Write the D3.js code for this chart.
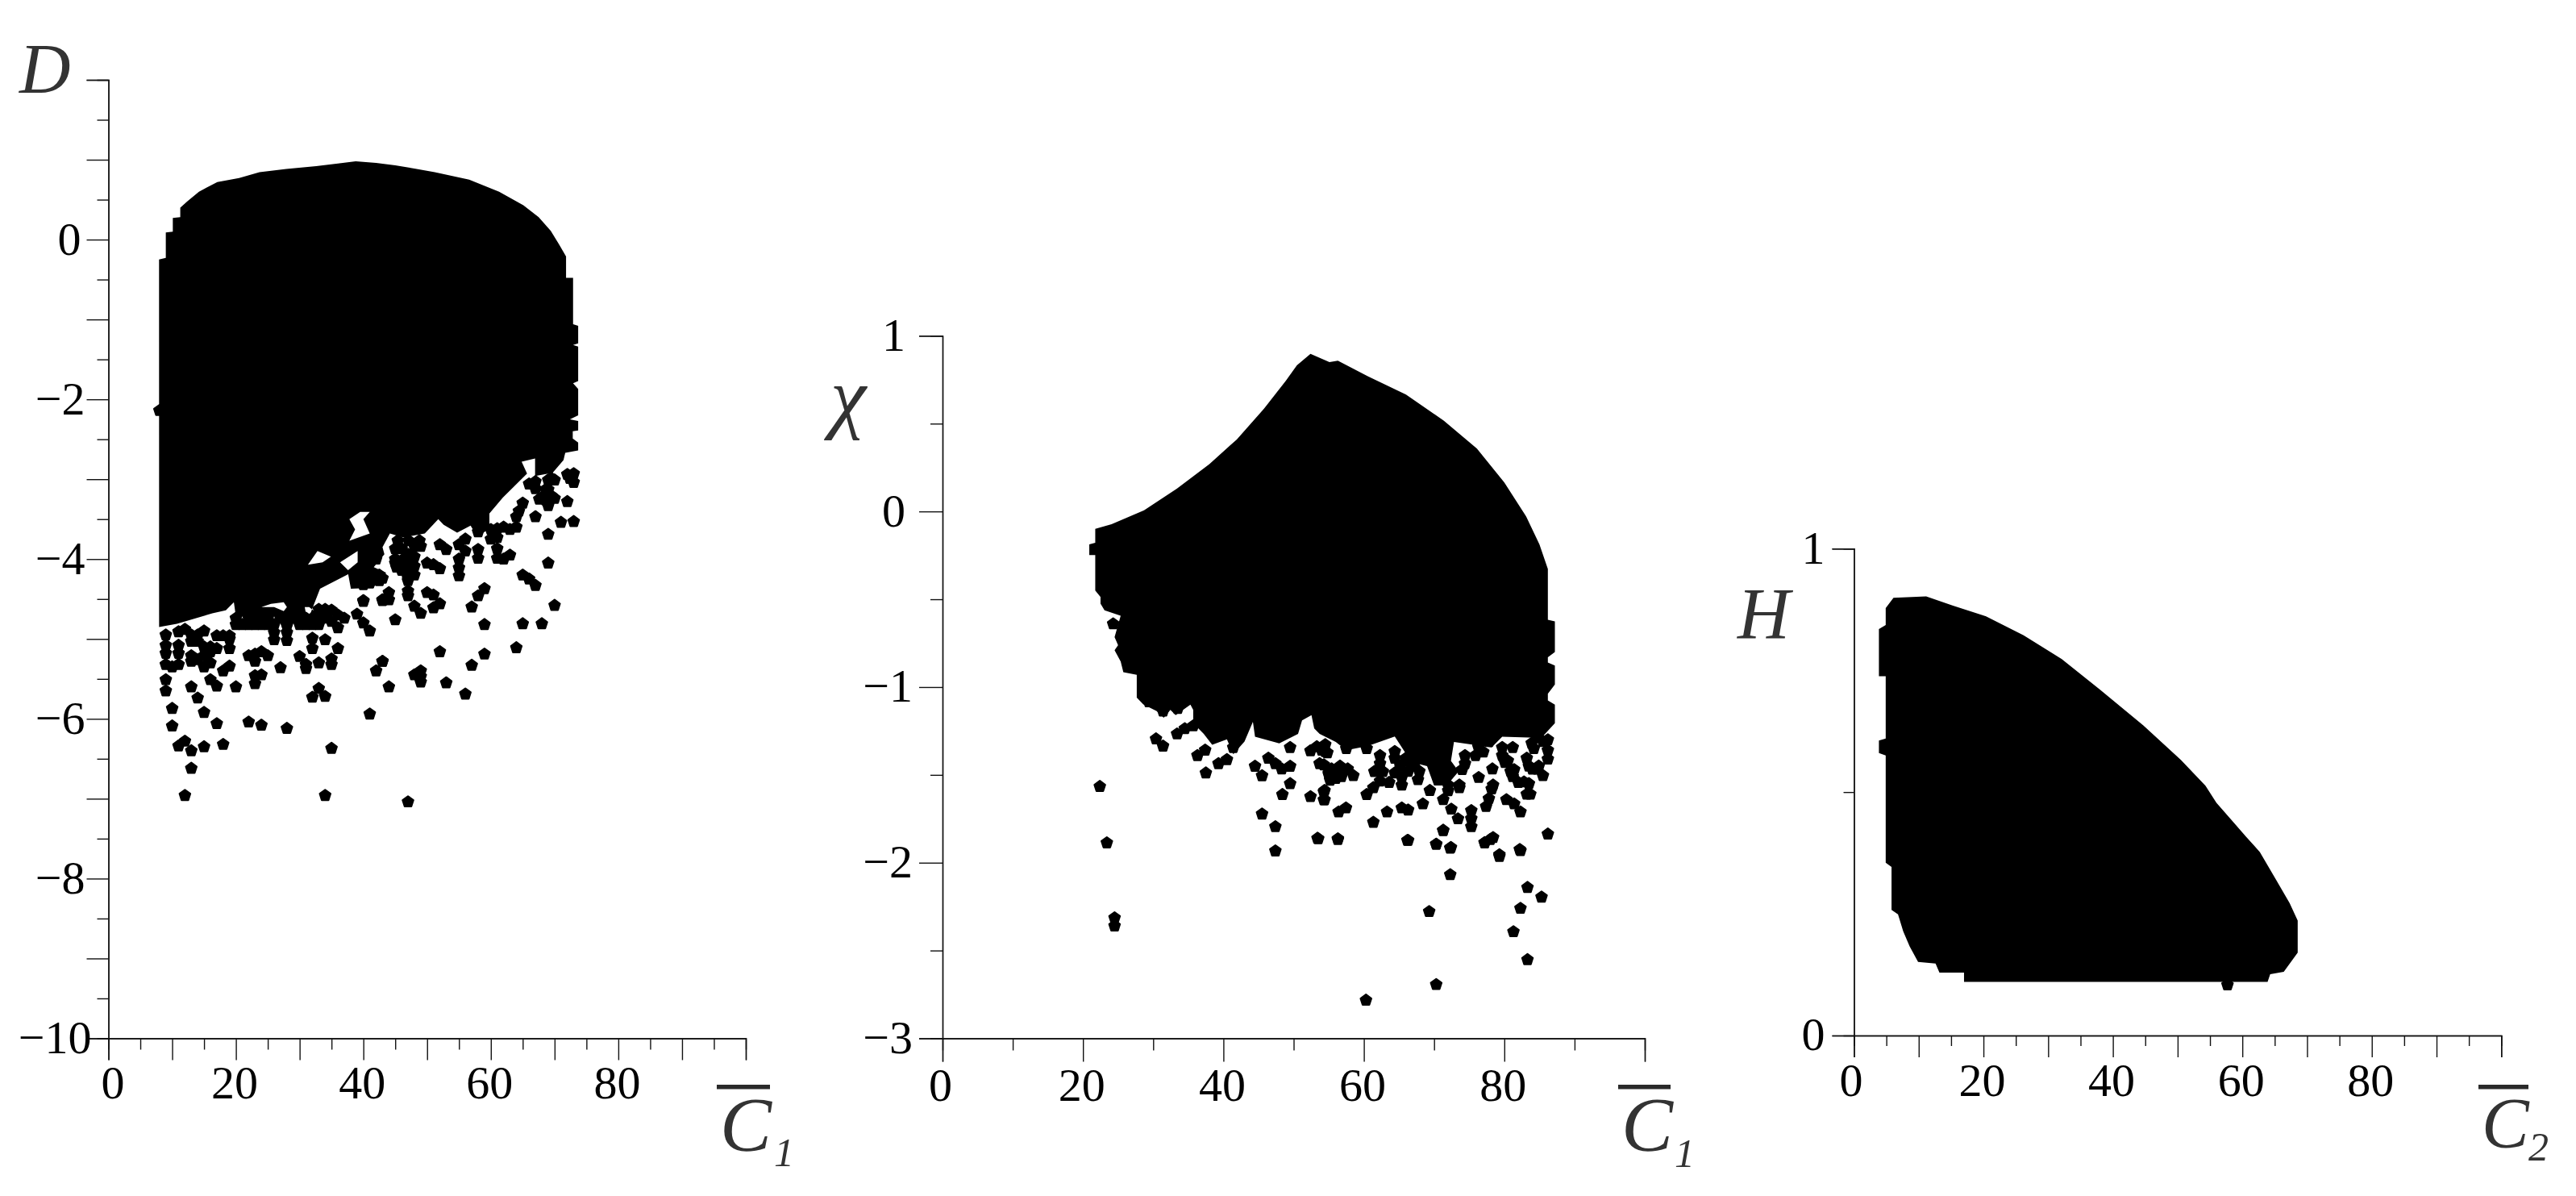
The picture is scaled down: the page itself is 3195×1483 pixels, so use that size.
<!DOCTYPE html>
<meta charset="utf-8">
<style>
body { margin: 0; background: #fff; }
.axis path, .axis line { stroke: #111; stroke-width: 1.4px; fill: none; }
.axis text { font: 58px "Liberation Serif", serif; fill: #000; }
.name { font-family: "Liberation Serif", serif; font-style: italic; fill: #333; }
</style>
<body>
<script src="https://d3js.org/d3.v7.min.js"></script>
<script>

// dense part of each cloud: outline [C, value]
const cloud1 = [[7.94,-0.25],[9,-0.23],[9,0.09],[10.1,0.1],[10.1,0.27],[11.27,0.28],[11.27,0.4],[12.4,0.48],[14.2,0.6],[17.08,0.72],[20.5,0.77],[23.7,0.845],[27.9,0.885],[32.6,0.92],[36,0.953],[38.8,0.98],[42,0.96],[45,0.93],[48,0.89],[51.2,0.845],[56.6,0.75],[61.3,0.6],[65.1,0.43],[67.5,0.28],[69.4,0.11],[70.7,-0.06],[71.8,-0.21],[71.8,-0.48],[72.9,-0.48],[72.9,-1.06],[73.7,-1.08],[73.7,-1.3],[72.9,-1.32],[73.7,-1.34],[73.7,-1.77],[72.9,-1.8],[73.7,-1.87],[73.7,-2.2],[72.4,-2.25],[73.7,-2.27],[73.7,-2.39],[72.85,-2.4],[72.85,-2.49],[73.7,-2.54],[73.7,-2.64],[71.67,-2.67],[71.4,-2.76],[69.7,-2.92],[66.94,-2.96],[66.94,-2.74],[64.83,-2.78],[65.68,-2.93],[61.88,-3.23],[59.77,-3.43],[59.77,-3.62],[57.87,-3.72],[56.82,-3.58],[54.71,-3.67],[52.6,-3.57],[51.75,-3.5],[49.64,-3.68],[46.27,-3.73],[44.16,-3.68],[43,-3.85],[43.3,-3.94],[41.63,-4.1],[43.53,-4.17],[43.3,-4.26],[41.2,-4.36],[38.04,-4.37],[37.62,-4.19],[33.2,-4.37],[31.5,-4.72],[28,-4.72],[23.9,-4.72],[20,-4.72],[19.68,-4.54],[18.42,-4.64],[16.3,-4.68],[10.74,-4.81],[7.95,-4.85]];

// white gaps inside the dense part
const gaps1 = [
	[[24,-4.6],[25.5,-4.56],[27.5,-4.54],[28,-4.6],[27.5,-4.65],[26,-4.6]],
	[[30.8,-4.6],[31.5,-4.6],[32.7,-4.68],[31,-4.69]],
	[[39.5,-3.41],[41,-3.41],[40,-3.5],[41,-3.68],[37.8,-3.77],[38.7,-3.63],[37.8,-3.5]],
	[[32.8,-3.9],[34.9,-3.97],[33.6,-4.04],[31.3,-4.07]],
	[[39.1,-3.9],[39.1,-4.04],[37.6,-4.14],[36.35,-4.04]]
];

const dots1 = [[8,-2.14],[12,-6.96],[34,-6.96],[47,-7.04],[13,-6.62],[35,-6.37],[12,-6.28],[11,-6.34],[13,-6.4],[15,-6.35],[18,-6.32],[10,-6.09],[10,-5.87],[17,-6.06],[15,-5.92],[14,-5.74],[22,-6.04],[24,-6.08],[28,-6.12],[41,-5.94],[32,-5.73],[34,-5.72],[33,-5.62],[13,-5.6],[9,-5.65],[9,-5.51],[20,-5.6],[17,-5.59],[16,-5.51],[23,-5.56],[23,-5.46],[24,-5.45],[27,-5.36],[18,-5.4],[19,-5.34],[31,-5.37],[31,-5.32],[33,-5.3],[35,-5.32],[35,-5.25],[30,-5.22],[32,-5.12],[36,-5.12],[32,-4.99],[34,-5.01],[43,-5.28],[42,-5.4],[44,-5.6],
[22,-5.21],[23,-5.19],[24,-5.16],[25,-5.21],[23,-5.28],[26,-5.01],[28,-5.02],[28,-4.92],[28,-4.83],[26,-4.92],
[20,-4.74],[22,-4.74],[23,-4.74],[24,-4.74],[25,-4.74],[27,-4.74],[28,-4.74],[29,-4.74],[30,-4.74],[31,-4.74],[32,-4.74],[33,-4.74],[34,-4.74],[33,-4.63],[34,-4.63],
[20,-4.82],[21,-4.82],[22,-4.82],[23,-4.82],[24,-4.82],[25,-4.82],[26,-4.82],[28,-4.82],[30,-4.82],[31,-4.82],[32,-4.82],[33,-4.82],
[9,-4.95],[13,-4.95],[14,-4.95],[15,-4.9],[11,-4.91],[12,-4.88],[17,-4.96],[18,-4.96],[19,-4.96],[19,-5],[13,-5.03],[14,-5.03],[9,-5.08],[9,-5.18],[9,-5.32],[11,-5.08],[11,-5.18],[10,-5.35],[11,-5.32],[13,-5.28],[14,-5.26],[15,-5.35],[16,-5.3],[13,-5.21],[15,-5.1],[16,-5.16],[17,-5.12],[16,-5.1],[15,-5.21],[19,-5.12],
[35,-4.64],[36,-4.7],[37,-4.74],[35,-4.78],[36,-4.86],[39,-4.69],[40,-4.8],[41,-4.9],[40,-4.52],[43,-4.52],[34,-4.7],
[73,-2.93],[73,-3.04],[72,-2.94],[69,-3.01],[70,-3.01],[67,-3.03],[67,-3.12],[69,-3.13],[68,-3.23],[69,-3.33],[70,-3.24],[72,-3.28],[73,-3.53],[71,-3.54],[67,-3.47],[69,-3.69],[69,-4.05],[70,-4.58],[65,-4.2],[66,-4.25],[67,-4.33],[59,-4.37],[58,-4.46],[57,-4.6],[59,-4.82],[65,-4.81],[68,-4.81],[52,-3.82],[53,-3.88],[56,-3.75],[55,-3.82],[56,-3.9],[58,-3.88],[58,-3.99],[55,-4],[55,-4.11],[55,-4.21],[50,-4.05],[51,-4.07],[52,-4.12],[47,-4.46],[47,-4.4],[44,-4.42],[44,-4.51],[43,-4.51],[50,-4.42],[51,-4.45],[52,-4.56],[51,-4.61],[45,-4.76],[48,-4.59],[49,-4.68],[47,-4.24],[42,-4.24],[41,-4.29],[40,-4.32],[40,-4.53],
[61,-3.73],[61,-3.87],[61,-3.99],[62,-4],[63,-3.95],[60,-3.63],[63,-3.63],[64,-3.47],[65,-3.3],[60,-3.75],[61,-3.62],
[45,-3.87],[45,-4],[46,-3.87],[47,-3.94],[48,-3.84],[49,-3.84],[48,-3.97],[48,-4.09],[47,-4.2],[45,-4.05],[46,-4.14],[42,-4],[43,-4.24],[41,-4.3],
[64,-5.11],[59,-5.19],[57,-5.33],[52,-5.16],[53,-5.55],[56,-5.69],[49,-5.47],[48,-5.45],[49,-5.54],[49,-5.4],[43,-5.28],
[58,-3.66],[62,-3.6],[64,-3.6],[64.4,-3.4],[66,-3.06],[69.5,-2.99],[67.6,-3.25],[68.6,-3.26],[69.5,-3.21],[68.6,-3.13],[72.4,-2.99],[45.4,-3.77],[47.1,-3.77],[48.8,-3.77],[46.3,-4],[47,-4.07],[48,-4.2],[47,-4.27],[45.9,-4.07],[45.2,-4.1],[42.5,-4.2],[42.5,-4.27]];

const cloud2 = [[21.75,-0.099],[24.07,-0.073],[28.7,0.006],[33.4,0.13],[38,0.27],[41.9,0.41],[45.8,0.586],[48.9,0.745],[50.46,0.832],[52.4,0.897],[55.1,0.85],[56.3,0.858],[60.55,0.77],[66,0.666],[71.4,0.516],[76.1,0.358],[80,0.165],[83.1,-0.028],[85,-0.187],[86.2,-0.327],[86.2,-0.617],[87.2,-0.626],[87.2,-0.8],[86.2,-0.83],[86.2,-0.86],[87.2,-0.877],[87.2,-0.985],[86.2,-1.038],[86.2,-1.076],[87.2,-1.1],[87.2,-1.206],[85.27,-1.29],[79.7,-1.283],[78.2,-1.344],[72.83,-1.313],[72.4,-1.42],[73.5,-1.48],[71.8,-1.56],[70,-1.56],[69,-1.45],[67,-1.43],[66,-1.38],[64.4,-1.282],[60.58,-1.336],[57.5,-1.359],[56,-1.313],[53.7,-1.267],[52.93,-1.236],[52.54,-1.16],[51.2,-1.19],[50.63,-1.267],[47.95,-1.32],[44.5,-1.283],[44.2,-1.198],[43,-1.31],[41.4,-1.382],[40.5,-1.298],[38.4,-1.328],[37.2,-1.267],[35.7,-1.206],[35.7,-1.13],[35.3,-1.1],[33.2,-1.16],[32.45,-1.13],[31.5,-1.175],[30.5,-1.137],[28.6,-1.099],[27.66,-1.06],[27.66,-0.93],[25.75,-0.915],[25.37,-0.854],[24.5,-0.79],[25,-0.762],[24.5,-0.716],[25.37,-0.594],[23.07,-0.563],[22.5,-0.525],[22.5,-0.487],[21.75,-0.45],[21.75,-0.248],[20.9,-0.248],[20.9,-0.187],[21.75,-0.178]];

const dots2 = [[22.4,-1.566],[23.4,-1.887],[24.3,-0.64],[24.5,-2.314],[24.5,-2.36],[29.4,-1.084],[31.4,-1.137],[33.5,-1.122],[30.4,-1.295],[31.4,-1.336],[33.4,-1.267],[34.5,-1.237],[35.7,-1.221],[36.3,-1.39],[37.4,-1.359],[39.3,-1.436],[40.5,-1.413],[37.5,-1.489],[41.4,-1.344],[44.5,-1.451],[45.5,-1.505],[46.4,-1.405],[47.4,-1.436],[48.3,-1.466],[49.5,-1.451],[49.5,-1.344],[49.5,-1.55],[48.4,-1.612],[45.5,-1.723],[47.4,-1.795],[53.4,-1.861],[47.4,-1.933],[52.4,-1.624],[54.3,-1.596],[54.3,-1.642],[52.4,-1.363],[54.3,-1.443],[54.5,-1.328],[54.5,-1.367],[55,-1.497],
[54.8,-1.374],[55.4,-1.466],[56.6,-1.45],[57.7,-1.466],[58.5,-1.504],[56,-1.52],[57.5,-1.35],[60.4,-1.35],[62.3,-1.39],[64.4,-1.367],[61.5,-1.481],[62.7,-1.481],[64.4,-1.489],[65.4,-1.513],[62.3,-1.535],[61.35,-1.573],[60.4,-1.612],[63.6,-1.543],[65.4,-1.558],[66,-1.42],[67.1,-1.42],[67.7,-1.527],[69.4,-1.589],[54.4,-1.589],[54.4,-1.642],[68.4,-1.665],[71.3,-1.641],[72.45,-1.695],[73.4,-1.75],[63.3,-1.711],[65.4,-1.688],[66.3,-1.7],[57.45,-1.688],[56.4,-1.711],[61.35,-1.77],[53.5,-1.864],[56.3,-1.864],[66.2,-1.873],[71.3,-1.815],[70.3,-1.895],[72.4,-1.913],[77.2,-1.887],[78.4,-1.857],[86.2,-1.837],[82.2,-1.925],[79.3,-1.955],[75.3,-1.703],[75.3,-1.749],[75.3,-1.795],[77.4,-1.68],[77.8,-1.635],[78.2,-1.58],[78.4,-1.558],[80.3,-1.641],[81.4,-1.665],[82.3,-1.711],[83.7,-1.61],[83.2,-1.61],[82,-1.543],[83.5,-1.55],[85.5,-1.504],[78.3,-1.466],[76.35,-1.515],[72,-1.558],[73.6,-1.573],[74.4,-1.436],[75.9,-1.39],[80.5,-1.42],[81.4,-1.47],[81.2,-1.344],[79.7,-1.344],[86.2,-1.36],[86.2,-1.41],[84.9,-1.45],[83.5,-1.45],[84.2,-1.35],
[72.3,-2.068],[83.3,-2.141],[85.3,-2.196],[82.3,-2.26],[69.3,-2.278],[81.3,-2.393],[83.3,-2.552],[70.3,-2.694],[60.3,-2.783],[79.3,-1.964],[82.3,-1.931],[72.3,-1.917],[70.3,-1.895],[71.3,-1.818],[66.3,-1.873],[56.3,-1.868],[78,-1.868],[77.2,-1.886],
[74.4,-1.39],[76.3,-1.34],[77,-1.37],[77.8,-1.31],[74,-1.47],[72,-1.59],[73.6,-1.558],[79.7,-1.39],[80.1,-1.43],[80.9,-1.48],[81.2,-1.51],[82.8,-1.54],[83.2,-1.405],[83.9,-1.32],[84.7,-1.28],[85.5,-1.31],[86.2,-1.3],[84,-1.467],[84.7,-1.467],[64.4,-1.405],[66,-1.405],[67.1,-1.45],[67.9,-1.48],[66.3,-1.48],[65.2,-1.45],[62.3,-1.436],[53.7,-1.436],[54,-1.36],[53.3,-1.34],[56,-1.48],[55,-1.49],[56.8,-1.51],[55.2,-1.53]];

const cloud3 = [[3.85,0.835],[4.9,0.843],[4.9,0.878],[6.1,0.899],[11.15,0.902],[15.3,0.883],[20.4,0.861],[26.2,0.822],[32.1,0.773],[37.95,0.711],[44.7,0.637],[50.5,0.566],[54.3,0.513],[56,0.478],[60.6,0.408],[62.7,0.377],[65.2,0.32],[67.3,0.272],[68.55,0.236],[68.55,0.17],[66.4,0.131],[64.3,0.126],[63.9,0.11],[17,0.11],[17,0.129],[13.2,0.129],[12.6,0.148],[9.9,0.151],[8.6,0.183],[7.6,0.214],[6.8,0.249],[5.8,0.258],[5.8,0.346],[4.9,0.355],[4.9,0.575],[3.85,0.58],[3.85,0.606],[4.9,0.61],[4.9,0.738],[3.85,0.738]];

const dots3 = [[57.7,0.104]];

const yMinor1 = d3.range(-9.5, 2, 1);
const yMajor1 = d3.range(-10, 3, 1);
const yLabels1 = [0, -2, -4, -6, -8, -10];
const yMinor2 = [0.5, -0.5, -1.5, -2.5];
const yMajor2 = [1, 0, -1, -2, -3];
const yMinor3 = [0.5];
const yMajor3 = [1, 0];
const xMinor5 = d3.range(5, 100, 10);
const xMajor10 = d3.range(0, 101, 10);
const xMinor10 = [10, 30, 50, 70, 90];
const xMajor20 = [0, 20, 40, 60, 80, 100];
const xLabels = [0, 20, 40, 60, 80];

var svg = d3.select("body").append("svg")
	.attr("width", 3195)
	.attr("height", 1483);

// pentagon marker, the plotting package draws its dots like this
const pentagon = {
	draw: function(ctx, size) {
		var r = Math.sqrt(size);
		for (var i = 0; i < 5; i++) {
			var a = -Math.PI / 2 + i * 2 * Math.PI / 5;
			if (i) ctx.lineTo(r * Math.cos(a), r * Math.sin(a));
			else ctx.moveTo(r * Math.cos(a), r * Math.sin(a));
		}
		ctx.closePath();
	}
};

function fmt(d) { return d < 0 ? "\u2212" + Math.abs(d) : String(d); }

function panel(p) {
	var x = d3.scaleLinear().domain([0, 100]).range([p.left, p.right]);
	var y = d3.scaleLinear().domain(p.yDomain).range([p.top, p.bottom]);
	var g = svg.append("g");

	var line = d3.line().x(d => x(d[0])).y(d => y(d[1])).curve(d3.curveLinearClosed);
	var outline = line(p.cloud) + (p.gaps || []).map(h => line(h)).join("");
	g.append("path").attr("d", outline).attr("fill", "#000").attr("fill-rule", "evenodd");

	var sym = d3.symbol().type(pentagon).size(7 * 7);
	g.selectAll(".dot").data(p.dots).enter().append("path")
		.attr("class", "dot")
		.attr("transform", d => "translate(" + x(d[0]) + "," + y(d[1]) + ")")
		.attr("d", sym)
		.attr("fill", "#000")
		.attr("stroke", "#000")
		.attr("stroke-width", 2.2)
		.attr("stroke-linejoin", "round");

	// short ticks first, then the long ones that carry labels
	g.append("g").attr("class", "axis")
		.attr("transform", "translate(0," + p.bottom + ")")
		.call(d3.axisBottom(x).tickValues(p.xMinor).tickSize(p.minorLen).tickFormat(""));
	var ax = g.append("g").attr("class", "axis")
		.attr("transform", "translate(0," + p.bottom + ")")
		.call(d3.axisBottom(x).tickValues(p.xMajor).tickSize(p.majorLen)
			.tickFormat(d => xLabels.includes(d) ? d : ""));
	ax.selectAll("text")
		.attr("y", p.xBase)
		.attr("dy", 0)
		.attr("dx", d => d === 0 ? p.zeroDx : -2);

	g.append("g").attr("class", "axis")
		.attr("transform", "translate(" + p.left + ",0)")
		.call(d3.axisLeft(y).tickValues(p.yMinor).tickSize(p.minorLen).tickFormat(""));
	var ay = g.append("g").attr("class", "axis")
		.attr("transform", "translate(" + p.left + ",0)")
		.call(d3.axisLeft(y).tickValues(p.yMajor).tickSize(p.majorLen)
			.tickFormat(d => p.yLabels.includes(d) ? fmt(d) : ""));
	ay.selectAll("text")
		.attr("x", d => p.yEnd(d))
		.attr("dy", "0.31em");

	g.append("text").attr("class", "name")
		.attr("x", p.name.x).attr("y", p.name.y)
		.style("font-size", p.name.size + "px")
		.text(p.name.text);

	// x axis name: C with a bar over it and a subscript
	g.append("rect")
		.attr("x", p.c.x - 4).attr("y", p.c.bar)
		.attr("width", p.c.barW).attr("height", 5.5)
		.attr("fill", "#2a2a2a");
	g.append("text").attr("class", "name")
		.attr("x", p.c.x).attr("y", p.c.y)
		.style("font-size", p.c.size + "px").text("C");
	g.append("text").attr("class", "name")
		.attr("x", p.c.subX).attr("y", p.c.subY)
		.style("font-size", "50px").text(p.c.sub);
}

panel({
	left: 134.5, right: 925, top: 99, bottom: 1287.5, yDomain: [2, -10],
	cloud: cloud1, gaps: gaps1, dots: dots1,
	xMinor: xMinor5, xMajor: xMajor10, yMinor: yMinor1, yMajor: yMajor1, yLabels: yLabels1,
	minorLen: 14, majorLen: 27, xBase: 74, zeroDx: 5,
	yEnd: d => d === -10 ? -21 : (d === 0 ? -34 : -29),
	name: { text: "D", x: 24, y: 115, size: 88 },
	c: { x: 893, y: 1427, size: 96, bar: 1345, barW: 66, subX: 960, subY: 1446, sub: "1" }
});

panel({
	left: 1169, right: 2040, top: 416.4, bottom: 1287.5, yDomain: [1, -3],
	cloud: cloud2, dots: dots2,
	xMinor: xMinor10, xMajor: xMajor20, yMinor: yMinor2, yMajor: yMajor2, yLabels: yMajor2,
	minorLen: 15, majorLen: 29, xBase: 77, zeroDx: -3,
	yEnd: d => d < 0 ? -37 : -46,
	name: { text: "\u03c7", x: 1030, y: 525, size: 100 },
	c: { x: 2011, y: 1427, size: 96, bar: 1345, barW: 65, subX: 2077, subY: 1447, sub: "1" }
});

panel({
	left: 2299.5, right: 3102.3, top: 680.3, bottom: 1284, yDomain: [1, 0],
	cloud: cloud3, dots: dots3,
	xMinor: xMinor5, xMajor: xMajor10, yMinor: yMinor3, yMajor: yMajor3, yLabels: yMajor3,
	minorLen: 13, majorLen: 27, xBase: 75, zeroDx: -4,
	yEnd: d => -36,
	name: { text: "H", x: 2155, y: 792, size: 90 },
	c: { x: 3078, y: 1422, size: 88, bar: 1345, barW: 62, subX: 3136, subY: 1439, sub: "2" }
});

</script>
</body>
